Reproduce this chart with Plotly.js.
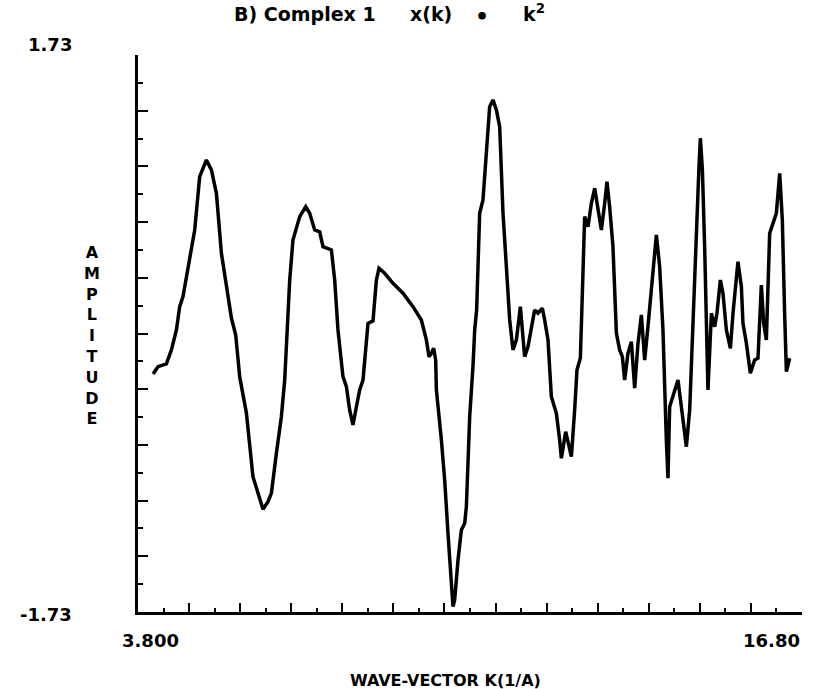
<!DOCTYPE html>
<html>
<head>
<meta charset="utf-8">
<script src="https://cdn.plot.ly/plotly-3.0.1.min.js"></script>
<style>html,body{margin:0;padding:0;background:#fff;}#chart{width:824px;height:689px;}</style>
</head>
<body>
<div id="chart"></div>
<script>
// ---- data ----
const waveVector = [4.094,4.192,4.356,4.454,4.552,4.616,4.681,4.779,4.910,5.008,5.073,5.139,5.237,5.335,5.433,5.531,5.629,5.713,5.791,5.922,6.051,6.149,6.247,6.345,6.412,6.510,6.607,6.672,6.737,6.770,6.834,6.901,6.966,7.083,7.161,7.259,7.357,7.422,7.488,7.586,7.651,7.715,7.813,7.880,7.944,8.009,8.076,8.140,8.205,8.271,8.303,8.401,8.467,8.518,8.630,8.792,8.988,9.184,9.348,9.446,9.497,9.544,9.589,9.628,9.642,9.740,9.804,9.869,9.935,9.967,10.000,10.065,10.131,10.196,10.229,10.294,10.358,10.392,10.430,10.489,10.554,10.621,10.685,10.750,10.817,10.881,10.946,11.012,11.077,11.141,11.208,11.286,11.370,11.435,11.502,11.566,11.631,11.717,11.762,11.827,11.893,11.991,12.056,12.089,12.173,12.285,12.349,12.394,12.461,12.500,12.545,12.610,12.676,12.741,12.805,12.872,12.937,12.982,13.034,13.099,13.166,13.230,13.283,13.328,13.393,13.459,13.524,13.589,13.655,13.720,13.784,13.882,13.949,14.013,14.078,14.144,14.176,14.209,14.274,14.372,14.438,14.536,14.601,14.665,14.698,14.743,14.783,14.810,14.850,14.894,14.928,14.959,15.026,15.090,15.135,15.202,15.253,15.319,15.398,15.449,15.546,15.613,15.644,15.711,15.789,15.873,15.938,15.971,16.004,16.050,16.102,16.167,16.232,16.298,16.363,16.415,16.460,16.494,16.558];
const amplitude = [-0.252,-0.206,-0.189,-0.102,0.022,0.167,0.229,0.415,0.643,0.974,1.026,1.078,1.016,0.871,0.498,0.291,0.096,-0.009,-0.268,-0.494,-0.890,-0.991,-1.092,-1.045,-0.991,-0.742,-0.517,-0.289,0.208,0.332,0.581,0.663,0.726,0.788,0.747,0.643,0.632,0.539,0.529,0.519,0.332,0.022,-0.268,-0.330,-0.475,-0.568,-0.455,-0.351,-0.289,-0.061,0.063,0.078,0.332,0.405,0.374,0.312,0.250,0.167,0.084,-0.040,-0.144,-0.123,-0.092,-0.165,-0.351,-0.662,-0.910,-1.241,-1.573,-1.697,-1.655,-1.407,-1.221,-1.179,-1.076,-0.517,-0.206,0.022,0.146,0.747,0.829,1.160,1.409,1.451,1.388,1.285,0.747,0.415,0.084,-0.102,-0.040,0.167,-0.144,-0.082,0.042,0.146,0.126,0.157,0.084,-0.040,-0.393,-0.496,-0.662,-0.775,-0.610,-0.765,-0.475,-0.227,-0.152,0.332,0.726,0.663,0.809,0.902,0.788,0.643,0.809,0.943,0.788,0.539,0.001,-0.102,-0.144,-0.289,-0.123,-0.051,-0.340,-0.061,0.115,-0.165,0.042,0.415,0.612,0.415,0.022,-0.662,-0.899,-0.455,-0.393,-0.289,-0.455,-0.703,-0.475,0.084,0.415,0.747,1.036,1.213,1.016,0.539,0.001,-0.351,0.126,0.042,0.126,0.332,0.250,0.022,-0.092,0.126,0.446,0.291,0.063,-0.061,-0.247,-0.165,-0.154,0.063,0.301,0.063,-0.040,0.622,0.685,0.747,0.995,0.705,0.126,-0.237,-0.154];
const xRange = [3.8, 16.8];
const yRange = [-1.73, 1.73];
const xTickLabels = ['3.800', '16.80'];
const yTickLabels = ['1.73', '-1.73'];
const titleParts = ['B) Complex 1', 'x(k)', '\u2022', 'k<sup>2</sup>'];
const xTitle = 'WAVE-VECTOR K(1/A)';
const yTitleLetters = 'AMPLITUDE'.split('');

// tick positions (every 0.5 on x, every 0.173 on y; long/short alternating)
const xMajor = [], xMinor = [];
for (let n = 0; n <= 26; n++) { const v = +(xRange[0] + n * 0.5).toFixed(3); (n % 2 === 0 ? xMajor : xMinor).push(v); }
const yMajor = [], yMinor = [];
const yStep = (yRange[1] - yRange[0]) / 20;
for (let n = 0; n <= 20; n++) { const v = +(yRange[0] + n * yStep).toFixed(4); (n % 2 === 0 ? yMajor : yMinor).push(v); }

const FAM = 'DejaVu Sans, sans-serif';
const labFont = {family: FAM, size: 18, color: '#000'};
const ttlFont = {family: FAM, size: 19, color: '#000'};
// paper coordinates: plot area is x 138..802, y 55..612 (pixels)
const px = x => (x - 138) / 664;
const py = y => (612 - y) / 557;
const annotations = [
  {text: yTickLabels[0], xref: 'paper', yref: 'paper', x: px(74), y: py(45), xanchor: 'right', yanchor: 'middle', showarrow: false, font: labFont},
  {text: yTickLabels[1], xref: 'paper', yref: 'paper', x: px(74), y: py(614), xanchor: 'right', yanchor: 'middle', showarrow: false, font: labFont},
  {text: xTickLabels[0], xref: 'paper', yref: 'paper', x: px(150), y: py(640), xanchor: 'center', yanchor: 'middle', showarrow: false, font: labFont},
  {text: xTickLabels[1], xref: 'paper', yref: 'paper', x: px(802), y: py(640), xanchor: 'right', yanchor: 'middle', showarrow: false, font: labFont},
  {text: xTitle, xref: 'paper', yref: 'paper', x: px(445), y: py(680), xanchor: 'center', yanchor: 'middle', showarrow: false, font: {family: FAM, size: 16, color: '#000'}},
  {text: yTitleLetters.join('<br>'), xref: 'paper', yref: 'paper', x: px(92), y: py(335), xanchor: 'center', yanchor: 'middle', showarrow: false, align: 'center', font: {family: FAM, size: 16, color: '#000'}},
  {text: titleParts[0], xref: 'paper', yref: 'paper', x: px(232), y: py(14), xanchor: 'left', yanchor: 'middle', showarrow: false, font: ttlFont},
  {text: titleParts[1], xref: 'paper', yref: 'paper', x: px(408), y: py(14), xanchor: 'left', yanchor: 'middle', showarrow: false, font: ttlFont},
  {text: titleParts[2], xref: 'paper', yref: 'paper', x: px(482), y: py(17), xanchor: 'center', yanchor: 'middle', showarrow: false, font: {family: FAM, size: 22, color: '#000'}},
  {text: titleParts[3], xref: 'paper', yref: 'paper', x: px(521), y: py(13), xanchor: 'left', yanchor: 'middle', showarrow: false, font: ttlFont}
];
annotations.forEach(a => { a.text = '<b>' + a.text + '</b>'; });

const trace = {x: waveVector, y: amplitude, type: 'scatter', mode: 'lines', line: {color: '#000', width: 3.5}, hoverinfo: 'skip'};

const axisCommon = {showgrid: false, zeroline: false, showline: true, linecolor: '#000', linewidth: 3,
  ticks: 'inside', tickcolor: '#000', tickwidth: 2, tickmode: 'array', showticklabels: false};

const layout = {
  width: 824, height: 689,
  margin: {l: 138, r: 22, t: 55, b: 77},
  paper_bgcolor: '#fff', plot_bgcolor: '#fff',
  showlegend: false,
  xaxis: Object.assign({}, axisCommon, {range: xRange, tickvals: xMajor, ticklen: 9,
    minor: {tickmode: 'array', tickvals: xMinor, ticks: 'inside', ticklen: 4, tickwidth: 2, tickcolor: '#000', showgrid: false}}),
  yaxis: Object.assign({}, axisCommon, {range: yRange, tickvals: yMajor, ticklen: 10,
    minor: {tickmode: 'array', tickvals: yMinor, ticks: 'inside', ticklen: 5, tickwidth: 2, tickcolor: '#000', showgrid: false}}),
  annotations: annotations
};

Plotly.newPlot('chart', [trace], layout, {displayModeBar: false, staticPlot: true});
</script>
</body>
</html>
